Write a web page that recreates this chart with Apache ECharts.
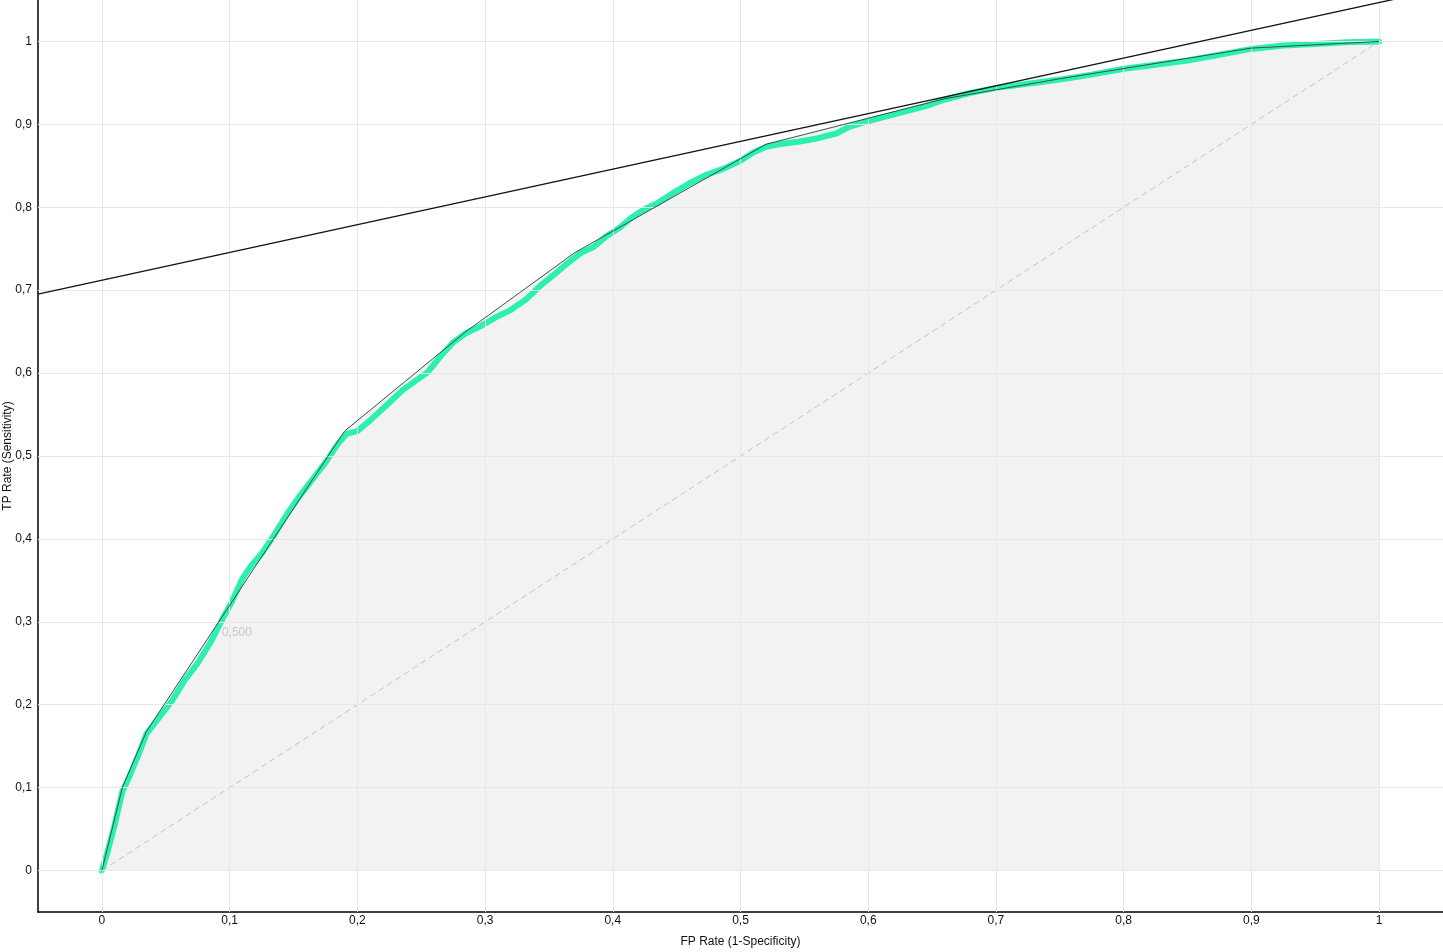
<!DOCTYPE html>
<html>
<head>
<meta charset="utf-8">
<script src="https://cdn.jsdelivr.net/npm/echarts@6/dist/echarts.min.js"></script>
<style>
html,body{margin:0;padding:0;background:#fff;}
#chart{width:1443px;height:952px;}
</style>
</head>
<body>
<div id="chart"></div>
<script>
// ---- data ----
const tickValues = [0, 0.1, 0.2, 0.3, 0.4, 0.5, 0.6, 0.7, 0.8, 0.9, 1];
const xAxisTitle = 'FP Rate (1-Specificity)';
const yAxisTitle = 'TP Rate (Sensitivity)';
const rocCurve = [
  [0,0],[0.004,0.02],[0.010,0.055],[0.016,0.095],[0.022,0.115],[0.030,0.145],[0.035,0.165],
  [0.045,0.185],[0.055,0.205],[0.065,0.23],[0.075,0.25],[0.085,0.275],[0.095,0.305],
  [0.102,0.325],[0.110,0.352],[0.117,0.368],[0.125,0.382],[0.135,0.405],[0.145,0.43],
  [0.155,0.452],[0.165,0.472],[0.175,0.492],[0.185,0.515],[0.192,0.527],[0.200,0.53],
  [0.210,0.543],[0.222,0.560],[0.236,0.580],[0.245,0.590],[0.255,0.601],[0.265,0.62],
  [0.275,0.637],[0.285,0.648],[0.297,0.657],[0.308,0.667],[0.320,0.676],[0.333,0.690],
  [0.343,0.705],[0.355,0.72],[0.365,0.733],[0.375,0.745],[0.385,0.752],[0.395,0.765],
  [0.405,0.775],[0.415,0.788],[0.425,0.798],[0.435,0.805],[0.447,0.817],[0.460,0.829],
  [0.473,0.839],[0.486,0.846],[0.500,0.856],[0.510,0.866],[0.520,0.873],[0.530,0.876],
  [0.545,0.879],[0.560,0.883],[0.575,0.889],[0.585,0.897],[0.600,0.904],[0.615,0.910],
  [0.630,0.916],[0.645,0.922],[0.660,0.930],[0.680,0.938],[0.700,0.944],[0.725,0.949],
  [0.750,0.954],[0.775,0.960],[0.800,0.967],[0.825,0.972],[0.850,0.977],[0.875,0.984],
  [0.900,0.991],[0.925,0.995],[0.950,0.997],[0.975,0.999],[1,1]
];
const hullCurve = [
  [0,0],[0.016,0.1],[0.035,0.168],[0.19,0.53],[0.285,0.65],[0.37,0.745],
  [0.52,0.876],[0.66,0.931],[0.75,0.955],[0.9,0.992],[1,1]
];
const diagonal = [[0,0],[1,1]];
const isoLine = [[-0.05,0.6953],[1.05,1.0637]];
const thresholdLabelPos = [[0.094,0.287]];
const thresholdLabel = '0,500';

// ---- chart ----
const fmt = v => {
  const r = Math.round(v * 100) / 100;
  if (r < -1e-9 || r > 1 + 1e-9) return '';
  if (Math.abs(Math.round(r * 10) - r * 10) > 1e-6) return '';
  return String(Math.round(r * 10) / 10).replace('.', ',');
};
const gridColor = '#e8e8e8';
const fontFamily = 'Liberation Sans, Arial, sans-serif';

const chart = echarts.init(document.getElementById('chart'), null, {renderer: 'canvas'});
chart.setOption({
  animation: false,
  backgroundColor: '#fff',
  grid: {left: 38, right: 0, top: 0, bottom: 40, containLabel: false, outerBoundsMode: 'none'},
  xAxis: {
    type: 'value', min: -0.05, max: 1.05, interval: 0.05,
    name: xAxisTitle, nameLocation: 'middle', nameGap: 24, nameMoveOverlap: false,
    nameTextStyle: {color: '#111', fontSize: 12, fontFamily},
    axisLine: {onZero: false, lineStyle: {color: '#000', width: 1.5}},
    axisTick: {show: false},
    splitLine: {show: false},
    axisLabel: {formatter: fmt, color: '#111', fontSize: 12, fontFamily, margin: 3, showMinLabel: true, showMaxLabel: true}
  },
  yAxis: {
    type: 'value', min: -0.05, max: 1.05, interval: 0.05,
    name: yAxisTitle, nameLocation: 'middle', nameGap: 24, nameRotate: 90, nameMoveOverlap: false,
    nameTextStyle: {color: '#111', fontSize: 12, fontFamily},
    axisLine: {onZero: false, lineStyle: {color: '#000', width: 1.5}},
    axisTick: {show: false},
    splitLine: {show: false},
    axisLabel: {formatter: fmt, color: '#111', fontSize: 12, fontFamily, margin: 6}
  },
  series: [
    {
      type: 'line', data: hullCurve, symbol: 'none', silent: true, z: 1,
      lineStyle: {width: 0},
      areaStyle: {color: '#f2f2f2', origin: 'auto', opacity: 1}
    },
    {
      type: 'line', data: [], symbol: 'none', silent: true, z: 2,
      markLine: {
        silent: true, symbol: 'none', label: {show: false},
        lineStyle: {color: gridColor, width: 1, type: 'solid'},
        data: tickValues.map(v => ({xAxis: v})).concat(tickValues.map(v => ({yAxis: v})))
      }
    },
    {
      type: 'line', data: diagonal, symbol: 'none', silent: true, z: 3,
      lineStyle: {color: '#c4c4c4', width: 1, type: [6, 4]}
    },
    {
      type: 'line', data: rocCurve, symbol: 'none', silent: true, z: 4,
      lineStyle: {color: '#2cf0b2', width: 6, join: 'round', cap: 'round'}
    },
    {
      type: 'line', data: hullCurve, symbol: 'none', silent: true, z: 5,
      lineStyle: {color: '#35524c', width: 1}
    },
    {
      type: 'line', data: isoLine, symbol: 'none', silent: true, z: 6, clip: true,
      lineStyle: {color: '#111', width: 1.3}
    },
    {
      type: 'scatter', data: thresholdLabelPos, symbolSize: 0, silent: true, z: 7,
      label: {show: true, position: 'right', distance: 0, formatter: thresholdLabel,
        color: '#bdbdbd', fontSize: 12, fontFamily}
    }
  ]
});
</script>
</body>
</html>
